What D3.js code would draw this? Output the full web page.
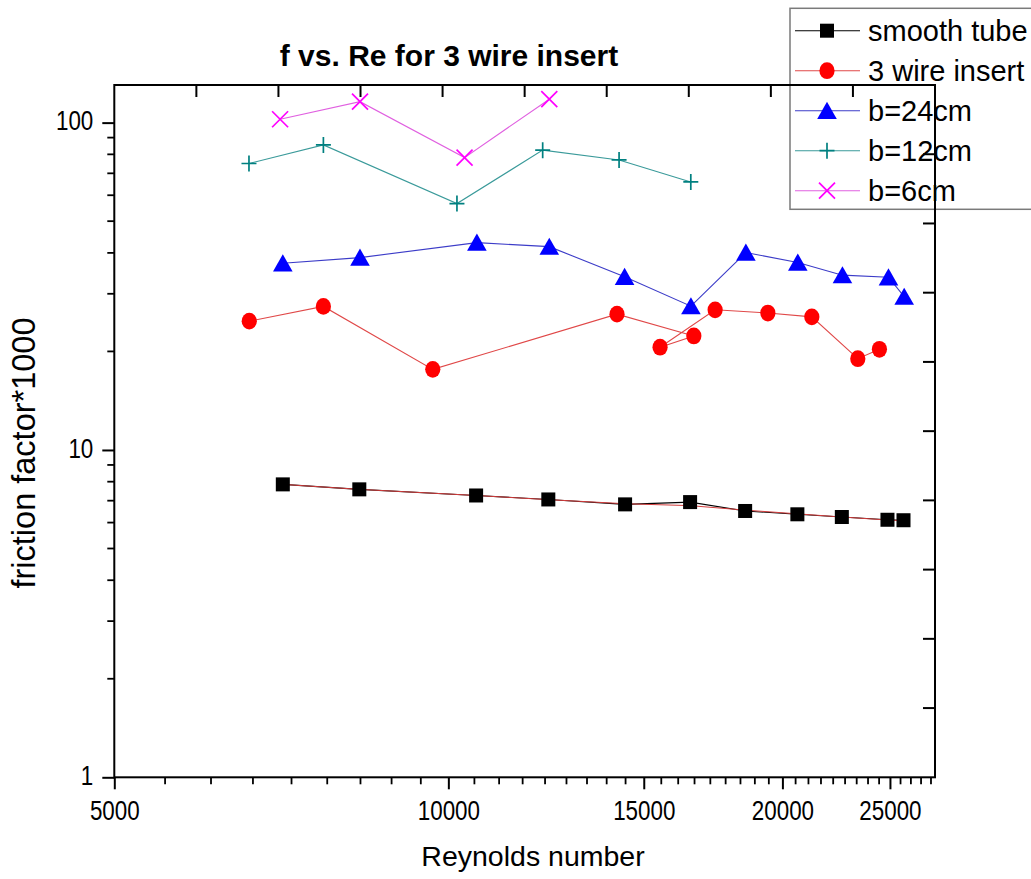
<!DOCTYPE html>
<html>
<head>
<meta charset="utf-8">
<script src="https://cdn.jsdelivr.net/npm/d3@7/dist/d3.min.js"></script>
<style>
  html, body { margin: 0; padding: 0; background: #ffffff; }
  svg { display: block; }
  text { font-family: "Liberation Sans", Arial, sans-serif; fill: #000; }
</style>
</head>
<body>
<svg id="chart" width="1031" height="879"></svg>
<script>
// Reynolds number and friction factor (x1000) for each configuration
const reSmooth   = [7093, 8313, 10593, 12305, 14430, 16514, 18512, 20631, 22625, 24872, 25713];
const fSmooth    = [7.85, 7.58, 7.26, 7.06, 6.82, 6.93, 6.51, 6.36, 6.24, 6.12, 6.10];
const fSmoothRef = [7.85, 7.58, 7.26, 7.05, 6.85, 6.76, 6.55, 6.38, 6.24, 6.11, 6.08];

const reWire3 = [6616, 7716, 9682, 14190, 16642, 15516, 17394, 19406, 21259, 23387, 24460];
const fWire3  = [24.75, 27.45, 17.63, 26.0, 22.3, 20.6, 26.8, 26.2, 25.5, 19.0, 20.3];

const reB24 = [7093, 8325, 10610, 12330, 14415, 16542, 18540, 20649, 22654, 24924, 25750];
const fB24  = [37.2, 38.7, 43.0, 41.8, 33.8, 27.5, 40.1, 37.4, 34.2, 33.7, 29.4];

const reB12 = [6612, 7716, 10180, 12162, 14251, 16538];
const fB12  = [75.0, 85.5, 56.6, 82.4, 76.9, 65.9];

const reB6 = [7053, 8325, 10342, 12330];
const fB6  = [102.4, 115.9, 78.2, 117.9];

const seriesNames = ["smooth tube", "3 wire insert", "b=24cm", "b=12cm", "b=6cm"];
const xTickValues = [5000, 10000, 15000, 20000, 25000];
const yTickValues = [1, 10, 100];

const chartTitle = "f vs. Re for 3 wire insert";
const xTitle = "Reynolds number";
const yTitle = "friction factor*1000";

// ---- layout ----
const svg = d3.select("#chart");
const L = 114.3, R = 935, T = 85, B = 777.3;

const x = d3.scaleLog().domain([5000, 27450]).range([L, R]);
const y = d3.scaleLog().domain([1, 130.3]).range([B, T]);

const styles = {
  smooth: { marker: "#000000", line: "#000000" },
  wire3:  { marker: "#ff0000", line: "#e04848" },
  b24:    { marker: "#0000ff", line: "#3c3cc8" },
  b12:    { marker: "#008080", line: "#3a9a9a" },
  b6:     { marker: "#ff00ff", line: "#e060e0" }
};

// ---- marker shapes ----
function drawMarker(g, kind, color) {
  if (kind === "square") {
    g.append("rect").attr("x", -7).attr("y", -7).attr("width", 14).attr("height", 14)
      .attr("fill", color);
  } else if (kind === "circle") {
    g.append("ellipse").attr("rx", 7.6).attr("ry", 8.4).attr("fill", color);
  } else if (kind === "triangle") {
    g.append("path").attr("d", "M0,-9 L9.8,8.2 L-9.8,8.2 Z").attr("fill", color);
  } else if (kind === "plus") {
    g.append("path").attr("d", "M-7.5,0 L7.5,0 M0,-8 L0,8")
      .attr("stroke", color).attr("stroke-width", 1.7).attr("fill", "none");
  } else if (kind === "cross") {
    g.append("path").attr("d", "M-8,-8 L8,8 M-8,8 L8,-8")
      .attr("stroke", color).attr("stroke-width", 1.7).attr("fill", "none");
  }
}

const line = d3.line().x(d => x(d[0])).y(d => y(d[1]));

function drawSeries(xs, ys, st, kind, overlay) {
  const pts = xs.map((v, i) => [v, ys[i]]);
  const g = svg.append("g");
  g.append("path").datum(pts).attr("d", line)
    .attr("fill", "none").attr("stroke", st.line).attr("stroke-width", 1.1);
  if (overlay) overlay(g);
  g.selectAll("g.m").data(pts).enter().append("g")
    .attr("transform", d => `translate(${x(d[0])},${y(d[1])})`)
    .each(function () { drawMarker(d3.select(this), kind, st.marker); });
}

// ---- data ----
drawSeries(reSmooth, fSmooth, styles.smooth, "square", g => {
  g.append("path").datum(reSmooth.map((v, i) => [v, fSmoothRef[i]])).attr("d", line)
    .attr("fill", "none").attr("stroke", "#d23c3c").attr("stroke-width", 1);
});
drawSeries(reWire3, fWire3, styles.wire3, "circle");
drawSeries(reB24, fB24, styles.b24, "triangle");
drawSeries(reB12, fB12, styles.b12, "plus");
drawSeries(reB6, fB6, styles.b6, "cross");

// ---- legend ----
const legendKinds = ["square", "circle", "triangle", "plus", "cross"];
const legendStyles = [styles.smooth, styles.wire3, styles.b24, styles.b12, styles.b6];
const lg = svg.append("g");
lg.append("rect").attr("x", 790).attr("y", 8.3).attr("width", 250).attr("height", 201)
  .attr("fill", "#ffffff").attr("stroke", "#7a7a7a").attr("stroke-width", 1.5);
seriesNames.forEach((name, i) => {
  const cy = 30.7 + i * 40;
  lg.append("line").attr("x1", 795).attr("x2", 860).attr("y1", cy).attr("y2", cy)
    .attr("stroke", legendStyles[i].line).attr("stroke-width", 1.1);
  const mg = lg.append("g").attr("transform", `translate(827,${cy})`);
  drawMarker(mg, legendKinds[i], legendStyles[i].marker);
  lg.append("text").attr("x", 868).attr("y", cy + 10).attr("font-size", 29).text(name);
});

// ---- axes ----
const labelScale = 0.8;

// bottom: major ticks with labels
const xAxis = svg.append("g").attr("transform", `translate(0,${B})`)
  .call(d3.axisBottom(x).tickValues(xTickValues).tickSize(12).tickPadding(11)
    .tickFormat(d3.format("d")));
xAxis.select(".domain").remove();
xAxis.selectAll(".tick line").attr("stroke", "#000").attr("stroke-width", 2);
xAxis.selectAll(".tick text").attr("font-size", 28)
  .style("font-family", '"Liberation Sans", Arial, sans-serif')
  .attr("transform", `scale(${labelScale},1)`);

// bottom: minor ticks, 8 between each pair of majors
const xMinor = [];
const step = 5000 / 9;
for (let v = 5000; v < 27450; v += 5000) {
  for (let k = 1; k <= 8; k++) {
    const m = v + k * step;
    if (m < 27450) xMinor.push(m);
  }
}
svg.append("g").selectAll("line").data(xMinor).enter().append("line")
  .attr("x1", d => x(d)).attr("x2", d => x(d)).attr("y1", B).attr("y2", B + 7)
  .attr("stroke", "#000").attr("stroke-width", 1.8);

// left: major ticks with labels
const yAxis = svg.append("g").attr("transform", `translate(${L},0)`)
  .call(d3.axisLeft(y).tickValues(yTickValues).tickSize(12).tickPadding(9)
    .tickFormat(d3.format("d")));
yAxis.select(".domain").remove();
yAxis.selectAll(".tick line").attr("stroke", "#000").attr("stroke-width", 2);
yAxis.selectAll(".tick text").attr("font-size", 28)
  .style("font-family", '"Liberation Sans", Arial, sans-serif')
  .attr("x", -21 / labelScale).attr("dy", "0.26em")
  .attr("transform", `scale(${labelScale},1)`);

// left: minor ticks
const yMinor = [];
[1, 10].forEach(dec => { for (let k = 2; k <= 9; k++) yMinor.push(dec * k); });
svg.append("g").selectAll("line").data(yMinor).enter().append("line")
  .attr("x1", L - 7).attr("x2", L).attr("y1", d => y(d)).attr("y2", d => y(d))
  .attr("stroke", "#000").attr("stroke-width", 1.8);

// top and right: ten equal divisions, ticks pointing inward
const div = d3.scaleLinear().domain([0, 10]);
const topX = div.copy().range([L, R]);
const rightY = div.copy().range([B, T]);
const inner = d3.range(1, 10);
svg.append("g").selectAll("line").data(inner).enter().append("line")
  .attr("x1", d => topX(d)).attr("x2", d => topX(d)).attr("y1", T).attr("y2", T + 12)
  .attr("stroke", "#000").attr("stroke-width", 2);
svg.append("g").selectAll("line").data(inner).enter().append("line")
  .attr("x1", R - 12).attr("x2", R).attr("y1", d => rightY(d)).attr("y2", d => rightY(d))
  .attr("stroke", "#000").attr("stroke-width", 2);

// frame
svg.append("rect").attr("x", L).attr("y", T).attr("width", R - L).attr("height", B - T)
  .attr("fill", "none").attr("stroke", "#000").attr("stroke-width", 2);

// ---- titles ----
svg.append("text").attr("x", 449).attr("y", 66).attr("text-anchor", "middle")
  .attr("font-size", 30).attr("font-weight", "bold").text(chartTitle);
svg.append("text").attr("x", 533).attr("y", 866).attr("text-anchor", "middle")
  .attr("font-size", 28.5).text(xTitle);
svg.append("text").attr("transform", "translate(35,453) rotate(-90)")
  .attr("text-anchor", "middle").attr("font-size", 32.5).text(yTitle);
</script>
</body>
</html>
